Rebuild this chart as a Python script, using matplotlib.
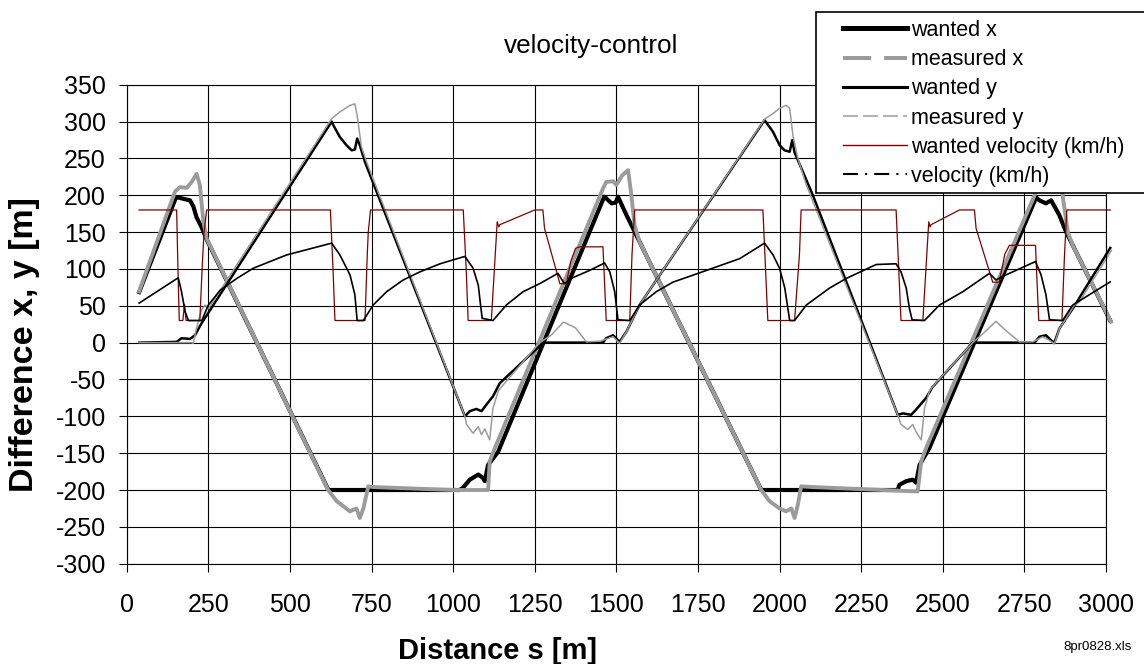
import numpy as np
import matplotlib
matplotlib.use('Agg')
import matplotlib.pyplot as plt
from matplotlib.lines import Line2D
from matplotlib.patches import Rectangle
from matplotlib.legend_handler import HandlerLine2D

plt.rcParams['font.family'] = ['Liberation Sans', 'DejaVu Sans']
plt.rcParams['axes.unicode_minus'] = False

# traced series (distance s [m] -> value)
wanted_x_s = [36, 150, 158, 175, 194, 204, 214, 229, 245, 618, 640, 750, 1020, 1030, 1051, 1077,
              1092, 1097, 1107, 1138, 1459, 1464, 1485, 1498, 1505, 1531, 1561, 1944, 2000, 2362,
              2367, 2388, 2408, 2418, 2429, 2459, 2786, 2796, 2816, 2832, 2857, 2878, 3015]
wanted_x = [66, 196, 197, 195, 193, 185, 170, 157, 140, -200, -200, -200, -200, -197, -186, -179,
            -184, -188, -166, -148, 194, 198, 189, 190, 198, 173, 146, -200, -200, -200,
            -193, -188, -186, -190, -166, -143, 197, 193, 189, 193, 173, 150, 28]

measured_x_s = [36, 148, 163, 184, 199, 214, 224, 235, 245, 617, 643, 684, 704, 714, 725, 740, 755,
                1000, 1107, 1112, 1128, 1459, 1469, 1490, 1500, 1518, 1536, 1546, 1556, 1571, 1944,
                1969, 2000, 2020, 2036, 2046, 2056, 2066, 2102, 2423, 2434, 2449, 2786, 2806, 2826,
                2846, 2858, 2867, 2883, 2898, 3018]
measured_x = [67, 205, 211, 210, 218, 229, 214, 164, 141, -200, -215, -229, -225, -238, -225, -195, -196,
              -200, -200, -161, -143, 209, 218, 219, 214, 227, 234, 200, 159, 137, -200,
              -215, -225, -229, -225, -238, -220, -195, -196, -202, -161, -143, 205, 212, 214,
              226, 232, 200, 150, 132, 26]

wanted_y_s = [36, 153, 168, 194, 209, 229, 628, 633, 653, 673, 689, 699, 706, 714, 730, 1036, 1051,
              1071, 1087, 1102, 1122, 1143, 1276, 1459, 1469, 1490, 1510, 1531, 1551, 1571, 1954,
              1980, 2000, 2015, 2031, 2039, 2046, 2102, 2362, 2378, 2403, 2418, 2449, 2469, 2592,
              2781, 2796, 2816, 2832, 2842, 2857, 2878, 2898, 3015]
wanted_y = [0, 1, 6, 5, 10, 26, 300, 295, 279, 268, 261, 262, 277, 268, 245, -100, -93,
            -90, -93, -84, -73, -55, 0, 0, 6, 10, 1, 15, 33, 51, 302,
            286, 268, 261, 259, 275, 258, 200, -98, -96, -98, -91, -75, -60, 0,
            0, 8, 10, 3, 0, 19, 33, 46, 130]

measured_y_s = [36, 199, 204, 214, 230, 240, 250, 628, 653, 684, 699, 706, 719, 735, 1036, 1041, 1061,
                1077, 1087, 1097, 1112, 1122, 1138, 1148, 1265, 1300, 1338, 1375, 1408, 1450, 1490,
                1510, 1531, 1551, 1571, 1954, 1980, 2000, 2020, 2031, 2041, 2056, 2082, 2362, 2372,
                2393, 2408, 2418, 2434, 2444, 2459, 2474, 2592, 2630, 2663, 2694, 2735, 2776, 2806,
                2827, 2842, 2857, 2878, 2903, 2918, 3018]
measured_y = [0, 0, -1, 20, 45, 51, 46, 304, 313, 322, 324, 308, 266, 245, -100, -111, -123,
              -114, -125, -117, -132, -89, -66, -60, 0, 10, 28, 20, 1, 2, 8,
              -1, 15, 33, 51, 303, 311, 318, 322, 318, 281, 250, 214, -98, -111,
              -118, -111, -121, -132, -89, -66, -57, 0, 15, 29, 16, 1, 1, 8,
              3, -2, 19, 33, 51, 55, 126]

wanted_v_s = [36, 153, 157, 161, 172, 177, 182, 224, 232, 237, 245, 624, 632, 638, 730, 737, 740, 747,
              1031, 1040, 1046, 1117, 1135, 1140, 1143, 1250, 1275, 1280, 1327, 1347, 1360, 1375,
              1388, 1459, 1464, 1469, 1541, 1548, 1556, 1949, 1957, 1964, 2046, 2061, 2066, 2357,
              2365, 2372, 2439, 2457, 2461, 2464, 2551, 2597, 2602, 2653, 2673, 2690, 2704, 2784,
              2789, 2794, 2865, 2873, 2880, 3015]
wanted_v = [180, 180, 100, 30, 30, 52, 30, 30, 110, 150, 180, 180, 100, 30, 30, 120, 150, 180,
            180, 100, 30, 30, 164, 157, 160, 180, 180, 155, 80, 80, 110, 128,
            130, 130, 80, 30, 30, 120, 180, 180, 100, 30, 30, 120, 180, 180,
            100, 30, 30, 164, 157, 160, 180, 180, 155, 82, 82, 120, 132, 132,
            80, 30, 30, 120, 180, 180]

velocity_s = [36, 158, 168, 179, 189, 230, 250, 286, 337, 388, 490, 628, 653, 684, 699, 706, 725,
              755, 796, 847, 898, 960, 1036, 1061, 1077, 1084, 1089, 1122, 1163, 1214, 1265, 1321,
              1341, 1361, 1418, 1464, 1480, 1495, 1505, 1541, 1571, 1622, 1673, 1776, 1878, 1954,
              1980, 2000, 2016, 2031, 2046, 2082, 2153, 2204, 2296, 2357, 2372, 2388, 2398, 2406,
              2444, 2490, 2561, 2643, 2663, 2694, 2784, 2801, 2816, 2827, 2867, 2898, 2949, 3015]
velocity = [53, 88, 69, 42, 30, 30, 51, 71, 87, 101, 119, 135, 119, 92, 65, 30, 30,
            51, 69, 85, 96, 107, 117, 101, 78, 51, 33, 30, 51, 69, 80, 94,
            80, 87, 98, 108, 96, 69, 31, 30, 51, 69, 82, 98, 114, 135,
            119, 101, 74, 30, 30, 51, 74, 87, 106, 107, 96, 74, 46, 31,
            30, 51, 69, 94, 85, 92, 110, 92, 65, 31, 30, 51, 65, 83]

labels = ['wanted x', 'measured x', 'wanted y', 'measured y',
          'wanted velocity (km/h)', 'velocity (km/h)']

GRAY = '#9b9b9b'
RED = '#800000'

W, H = 1144, 664
fig = plt.figure(figsize=(W / 100, H / 100), dpi=100)
ax = fig.add_axes([126.7 / W, 1 - 563.7 / H, (1106 - 126.7) / W, (563.7 - 84.7) / H])

kw = dict(clip_on=False, solid_joinstyle='round', solid_capstyle='butt')
ax.plot(wanted_x_s, wanted_x, color='black', lw=3.0, **kw)
ax.plot(measured_x_s, measured_x, color=GRAY, lw=2.8, **kw)
ax.plot(wanted_y_s, wanted_y, color='black', lw=1.8, **kw)
ax.plot(measured_y_s, measured_y, color=GRAY, lw=1.1, **kw)
ax.plot(wanted_v_s, wanted_v, color=RED, lw=0.9, **kw)
ax.plot(velocity_s, velocity, color='black', lw=1.2, **kw)

ax.set_xlim(0, 3000)
ax.set_ylim(-300, 350)
ax.set_xticks(np.arange(0, 3001, 250))
ax.set_yticks(np.arange(-300, 351, 50))
ax.grid(True, color='black', lw=0.8)
ax.set_axisbelow(True)
for sp in ax.spines.values():
    sp.set_color('black')
    sp.set_linewidth(0.8)
ax.tick_params(axis='both', direction='out', length=6, width=0.8, labelsize=18, colors='black')
ax.tick_params(axis='x', pad=15)
ax.tick_params(axis='y', pad=9)

fig.text(591 / W, 1 - 46 / H, 'velocity-control', ha='center', va='center', fontsize=18.8)
fig.text(498 / W, 1 - 651 / H, 'Distance s [m]', ha='center', va='center',
         fontsize=21, fontweight='bold')
fig.text(25 / W, 1 - 345 / H, 'Difference x, y [m]', ha='center', va='center',
         fontsize=24.5, fontweight='bold', rotation=90)
fig.text(1132 / W, 1 - 647 / H, '8pr0828.xls', ha='right', va='center', fontsize=9.5)

# legend: white box that runs off the right edge, entries drawn by legend()
box = Rectangle((815.7 / W, 1 - 193 / H), (1160 - 815.7) / W, (193 - 11.7) / H,
                transform=fig.transFigure, facecolor='white', edgecolor='black', lw=1.2, zorder=2)
fig.add_artist(box)
handles = [
    Line2D([], [], color='black', lw=3.6),
    Line2D([], [], color=GRAY, lw=2.9, dashes=(7, 3.2)),
    Line2D([], [], color='black', lw=2.2),
    Line2D([], [], color=GRAY, lw=1.1, dashes=(9.8, 3.3)),
    Line2D([], [], color=RED, lw=1.0),
    Line2D([], [], color='black', lw=1.5, dashes=(7.2, 3.4, 1, 3.4)),
]
leg = fig.legend(handles, labels, loc='upper left', bbox_to_anchor=(843 / W, 1 - 20 / H),
                 frameon=False, fontsize=15.5, handlelength=2.98, handletextpad=0.19,
                 borderpad=0, borderaxespad=0, labelspacing=0.38,
                 handler_map={Line2D: HandlerLine2D(marker_pad=0)})
leg.set_zorder(3)

fig.savefig('out.png', dpi=100)
